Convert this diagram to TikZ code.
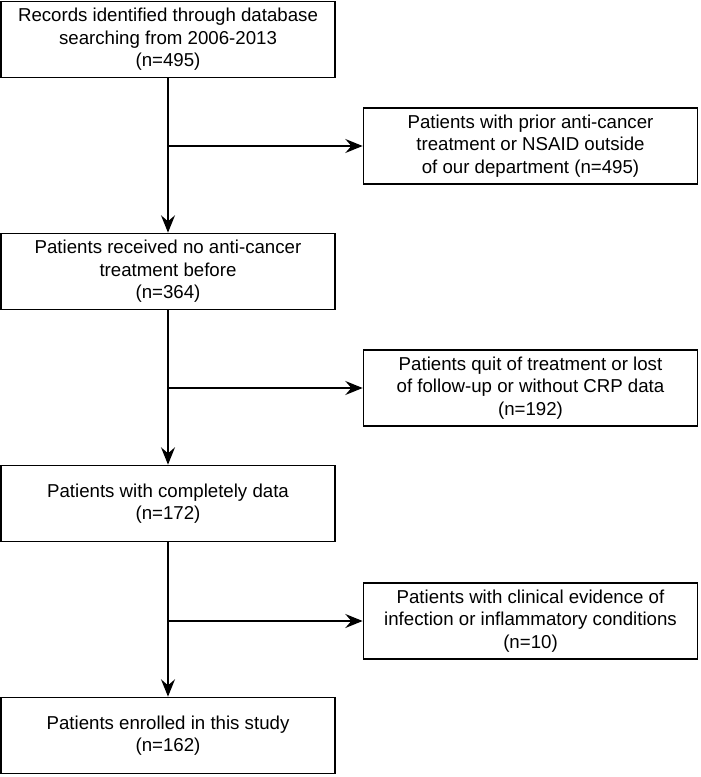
\documentclass[tikz,border=0pt]{standalone}
\usepackage{fontspec}
\setmainfont{Liberation Sans}
\usetikzlibrary{arrows.meta,positioning}
\begin{document}
\begin{tikzpicture}[x=0.75pt, y=-0.75pt, node distance=174pt,
    box/.style={draw, line width=1.3pt, minimum width=250.5pt, minimum height=57pt,
        inner sep=2pt, align=center, font=\fontsize{14}{17}\selectfont},
    arr/.style={-{Stealth[length=13pt, width=10.5pt, inset=4.5pt]}, line width=1pt}]
    \useasboundingbox (0,0) rectangle (700,777);
    \node(rec) [box] at (168,39.5) {Records identified through database\\searching from 2006-2013\\(n=495)};
    \node(none) [box, below of=rec] {Patients received no anti-cancer\\treatment before\\(n=364)};
    \node(comp) [box, below of=none] {Patients with completely data\\(n=172)};
    \node(enr) [box, below of=comp] {Patients enrolled in this study\\(n=162)};
    \node(prior) [box] at (530.5,146) {Patients with prior anti-cancer\\treatment or NSAID outside\\of our department (n=495)};
    \node(quit) [box] at (530.5,388) {Patients quit of treatment or lost\\of follow-up or without CRP data\\(n=192)};
    \node(infl) [box] at (530.5,621) {Patients with clinical evidence of\\infection or inflammatory conditions\\(n=10)};
    \coordinate(j1) at (rec.south |- prior.west);
    \coordinate(j2) at (none.south |- quit.west);
    \coordinate(j3) at (comp.south |- infl.west);
    \draw[arr](rec) to (none);
    \draw[arr](none) to (comp);
    \draw[arr](comp) to (enr);
    \draw[arr](j1) to (prior);
    \draw[arr](j2) to (quit);
    \draw[arr](j3) to (infl);
\end{tikzpicture}
\end{document}
